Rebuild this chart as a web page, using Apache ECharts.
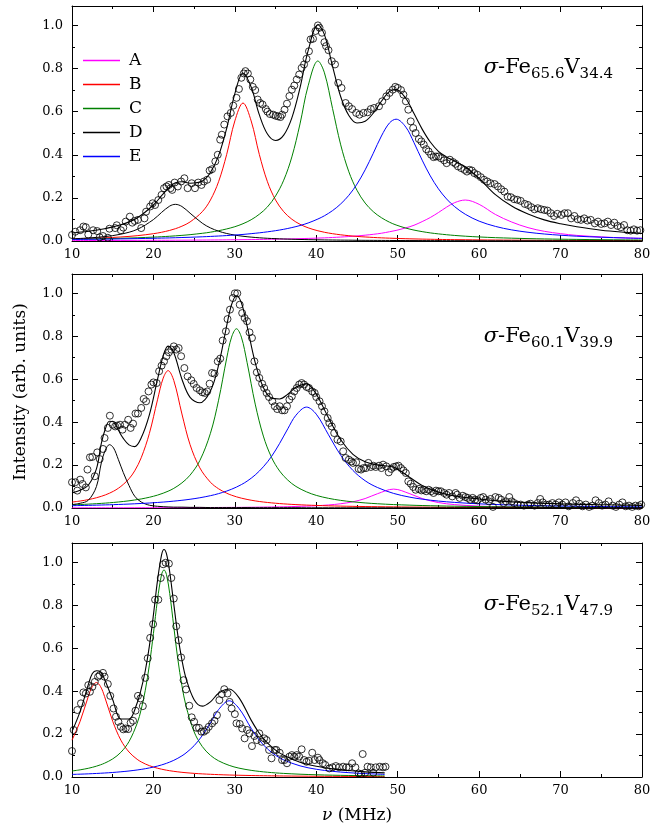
<!DOCTYPE html>
<html>
<head>
<meta charset="utf-8">
<script src="https://cdn.jsdelivr.net/npm/echarts/dist/echarts.min.js"></script>
<style>
  html, body { margin: 0; padding: 0; background: #fff; }
  #chart { width: 661px; height: 831px; }
</style>
</head>
<body>
<div id="chart"></div>
<script>
// ---- panel 1 : sigma-Fe65.6V34.4 ----
var nu1 = [10,12,14,16,18,20,21,22,22.7,23.5,24.5,26,27,28,29,30,31,32,33,34,35,36,37,38,39,40.2,41,42,43,44,45,46,47,48,49,49.8,51,52,53,54,55,56,57,58.3,60,62,64,66,68,70,72,75,78,80];
var A1 = [0.002,0.0022,0.0024,0.0026,0.0029,0.0032,0.0034,0.0035,0.0037,0.0038,0.0041,0.0044,0.0047,0.005,0.0054,0.0058,0.0062,0.0066,0.0071,0.0077,0.0084,0.0091,0.0099,0.0109,0.012,0.0135,0.0146,0.0164,0.0183,0.0207,0.0235,0.027,0.031,0.036,0.043,0.049,0.061,0.073,0.09,0.109,0.132,0.157,0.178,0.19,0.17,0.123,0.088,0.062,0.045,0.034,0.026,0.019,0.014,0.012];
var B1 = [0.0097,0.0118,0.0146,0.0187,0.0246,0.0339,0.0405,0.0492,0.0571,0.0687,0.0883,0.136,0.19,0.275,0.402,0.557,0.64,0.557,0.402,0.275,0.19,0.136,0.101,0.0776,0.0611,0.0474,0.0405,0.0339,0.0287,0.0246,0.0213,0.0187,0.0165,0.0146,0.0131,0.012,0.0106,0.0097,0.0088,0.0081,0.0074,0.0068,0.0063,0.0058,0.0051,0.0045,0.004,0.0035,0.0032,0.0028,0.0026,0.0022,0.002,0.0018];
var C1 = [0.0082,0.0093,0.0108,0.0126,0.015,0.018,0.0199,0.0221,0.0239,0.0261,0.0294,0.0357,0.0409,0.0477,0.056,0.0663,0.0802,0.0986,0.124,0.158,0.209,0.282,0.39,0.543,0.72,0.835,0.78,0.614,0.446,0.321,0.235,0.176,0.136,0.108,0.087,0.0743,0.0598,0.0506,0.0435,0.0376,0.033,0.0291,0.0258,0.0223,0.0187,0.0155,0.0131,0.0111,0.0096,0.0084,0.0074,0.0061,0.0052,0.0047];
var D1 = [0.0101,0.0139,0.0203,0.0316,0.0538,0.0993,0.1326,0.162,0.17,0.16,0.129,0.0825,0.0607,0.0455,0.0348,0.0274,0.022,0.018,0.0149,0.0126,0.0108,0.0093,0.0081,0.0071,0.0063,0.0055,0.005,0.0045,0.0041,0.0038,0.0034,0.0031,0.0029,0.0027,0.0025,0.0023,0.0021,0.002,0.0019,0.0018,0.0017,0.0016,0.0015,0.0014,0.0012,0.0011,0.001,0.0009,0.0008,0.0008,0.0007,0.0006,0.0006,0.0005];
var E1 = [0.0071,0.0079,0.0088,0.0098,0.0111,0.0126,0.0135,0.0144,0.0152,0.0161,0.0173,0.0195,0.0212,0.0231,0.0252,0.0277,0.0305,0.034,0.0379,0.0425,0.0479,0.0543,0.0623,0.0717,0.0836,0.102,0.117,0.141,0.172,0.212,0.264,0.33,0.407,0.487,0.548,0.565,0.528,0.456,0.375,0.302,0.242,0.195,0.159,0.124,0.092,0.0677,0.0515,0.0405,0.0325,0.0268,0.0223,0.0174,0.014,0.0123];
var fit1 = [0.037,0.045,0.057,0.075,0.107,0.167,0.21,0.251,0.27,0.275,0.268,0.278,0.318,0.396,0.523,0.684,0.779,0.714,0.586,0.496,0.466,0.491,0.571,0.71,0.883,1.003,0.957,0.81,0.669,0.582,0.547,0.555,0.593,0.648,0.694,0.703,0.661,0.591,0.519,0.459,0.416,0.39,0.37,0.343,0.29,0.215,0.162,0.125,0.098,0.08,0.066,0.05,0.04,0.035];
var obs1 = [[10,0.028],[10.4,0.043],[11,0.05],[11.4,0.067],[11.7,0.064],[12,0.03],[12.6,0.05],[13.1,0.046],[13.4,0.017],[13.8,0.023],[14.4,0.015],[14.6,0.057],[15.3,0.06],[15.5,0.073],[16,0.05],[16.3,0.062],[16.6,0.09],[17.1,0.113],[17.4,0.085],[17.7,0.093],[18.1,0.098],[18.5,0.06],[18.9,0.105],[19.1,0.136],[19.6,0.16],[19.9,0.175],[20.2,0.167],[20.6,0.19],[21,0.214],[21.3,0.245],[21.6,0.253],[21.9,0.26],[22.1,0.245],[22.3,0.237],[22.6,0.271],[23,0.253],[23.4,0.276],[23.8,0.291],[24.2,0.245],[24.7,0.268],[25.1,0.245],[25.5,0.271],[25.9,0.26],[26.2,0.276],[26.6,0.284],[26.9,0.327],[27.2,0.333],[27.6,0.369],[27.9,0.4],[28.2,0.47],[28.4,0.493],[28.7,0.54],[29.1,0.578],[29.5,0.594],[29.8,0.628],[30.2,0.664],[30.5,0.705],[30.8,0.757],[31.1,0.777],[31.3,0.788],[31.6,0.777],[31.9,0.749],[32.2,0.715],[32.5,0.7],[32.8,0.656],[33.1,0.64],[33.4,0.633],[33.8,0.612],[34,0.6],[34.3,0.589],[34.7,0.586],[35,0.581],[35.3,0.578],[35.6,0.575],[35.8,0.586],[36.1,0.609],[36.4,0.637],[36.7,0.672],[37,0.702],[37.3,0.721],[37.6,0.749],[37.9,0.772],[38.2,0.803],[38.5,0.819],[38.8,0.845],[39.1,0.88],[39.3,0.935],[39.6,0.938],[39.9,0.974],[40.2,1.0],[40.4,0.989],[40.7,0.966],[41,0.922],[41.2,0.904],[41.5,0.885],[41.9,0.834],[42.3,0.819],[42.7,0.733],[43.1,0.71],[43.6,0.64],[44,0.625],[44.4,0.612],[44.9,0.594],[45.3,0.586],[45.8,0.594],[46.3,0.597],[46.7,0.612],[47.1,0.617],[47.7,0.625],[48.1,0.648],[48.6,0.671],[49,0.687],[49.4,0.702],[49.7,0.715],[50,0.71],[50.4,0.7],[50.7,0.679],[51,0.648],[51.3,0.609],[51.6,0.555],[51.9,0.524],[52.2,0.501],[52.6,0.473],[52.9,0.462],[53.2,0.447],[53.5,0.426],[53.8,0.415],[54.1,0.4],[54.4,0.389],[54.7,0.392],[55,0.392],[55.3,0.384],[55.7,0.374],[56,0.361],[56.4,0.377],[56.8,0.366],[57.1,0.358],[57.4,0.346],[57.8,0.338],[58.2,0.33],[58.5,0.322],[58.8,0.33],[59.1,0.327],[59.4,0.315],[59.8,0.307],[60.2,0.296],[60.6,0.284],[61,0.276],[61.4,0.268],[61.9,0.264],[62.3,0.253],[62.7,0.24],[63.1,0.229],[63.5,0.206],[63.9,0.203],[64.3,0.194],[64.7,0.191],[65.1,0.186],[65.6,0.172],[66,0.167],[66.4,0.157],[66.8,0.147],[67.2,0.152],[67.6,0.147],[68,0.144],[68.4,0.141],[68.8,0.129],[69.2,0.116],[69.6,0.126],[70.1,0.121],[70.5,0.129],[70.9,0.129],[71.3,0.105],[71.7,0.116],[72.1,0.101],[72.5,0.098],[72.9,0.105],[73.3,0.095],[73.7,0.098],[74.2,0.082],[74.6,0.09],[75,0.079],[75.4,0.082],[75.8,0.09],[76.2,0.074],[76.6,0.085],[77,0.07],[77.4,0.064],[77.8,0.074],[78.2,0.05],[78.6,0.048],[79,0.054],[79.4,0.048],[79.8,0.05]];

// ---- panel 2 : sigma-Fe60.1V39.9 ----
var nu2 = [10,11,12,13,13.6,14.1,14.6,15.1,15.7,16.3,17,17.7,18.5,19.5,20.5,21.2,21.8,22.5,23.5,24.5,25.7,27,28,29,29.6,30.2,30.8,31.5,32.5,33.5,34.5,35.5,36.5,37.5,38.8,40,41.5,43,44.5,46,47.5,49.5,51.5,53,55,57,60,63,66,70,75,80];
var A2 = [0.0007,0.0007,0.0008,0.0008,0.0009,0.0009,0.0009,0.0009,0.001,0.001,0.001,0.0011,0.0012,0.0012,0.0013,0.0014,0.0015,0.0016,0.0017,0.0019,0.0021,0.0023,0.0025,0.0027,0.0028,0.0028,0.003,0.0033,0.0037,0.0042,0.0047,0.0052,0.006,0.0072,0.0085,0.0105,0.0141,0.0198,0.029,0.044,0.0663,0.088,0.0663,0.044,0.0254,0.0157,0.0088,0.0055,0.0038,0.0025,0.0016,0.0011];
var B2 = [0.0275,0.0325,0.039,0.0478,0.0544,0.061,0.0689,0.0782,0.0921,0.11,0.136,0.173,0.234,0.347,0.504,0.605,0.64,0.594,0.438,0.295,0.187,0.12,0.0895,0.0689,0.0596,0.052,0.0458,0.0399,0.0331,0.0279,0.0239,0.0206,0.018,0.0158,0.0136,0.0119,0.0101,0.0088,0.0077,0.0068,0.006,0.0052,0.0045,0.0041,0.0036,0.0032,0.0027,0.0023,0.002,0.0017,0.0014,0.0012];
var C2 = [0.0146,0.0162,0.018,0.0201,0.0215,0.0228,0.0243,0.0259,0.028,0.0304,0.0335,0.0373,0.0422,0.05,0.06,0.069,0.0782,0.0914,0.117,0.153,0.221,0.348,0.502,0.698,0.796,0.835,0.796,0.678,0.484,0.335,0.236,0.172,0.13,0.1005,0.0752,0.0588,0.0451,0.0355,0.0287,0.0237,0.0198,0.016,0.0132,0.0115,0.0098,0.0084,0.0068,0.0056,0.0047,0.0038,0.003,0.0024];
var D2 = [0.016,0.022,0.036,0.1,0.21,0.27,0.295,0.28,0.225,0.165,0.105,0.055,0.028,0.013,0.008,0.006,0.005,0.004,0.004,0.003,0.003,0.002,0.002,0.002,0.002,0.002,0.002,0.002,0.0015,0.0015,0.0015,0.0015,0.0015,0.0015,0.001,0.001,0.001,0.001,0.001,0.001,0.001,0.001,0.001,0.001,0.001,0.001,0.001,0.001,0.001,0.001,0.001,0.001];
var E2 = [0.0107,0.0115,0.0123,0.0133,0.0139,0.0145,0.015,0.0157,0.0164,0.0173,0.0184,0.0196,0.0211,0.0232,0.0257,0.0276,0.0295,0.032,0.0359,0.0407,0.0477,0.0574,0.0669,0.0789,0.0875,0.0975,0.109,0.125,0.154,0.192,0.24,0.301,0.369,0.432,0.47,0.437,0.341,0.246,0.175,0.127,0.0957,0.0679,0.0504,0.0412,0.0323,0.026,0.0194,0.015,0.012,0.0092,0.0068,0.0053];
var fit2 = [0.07,0.083,0.106,0.182,0.301,0.369,0.404,0.401,0.362,0.324,0.294,0.286,0.327,0.434,0.599,0.709,0.754,0.723,0.6,0.515,0.49,0.545,0.665,0.85,0.948,0.989,0.956,0.848,0.677,0.561,0.512,0.508,0.53,0.562,0.578,0.53,0.42,0.318,0.25,0.215,0.2,0.19,0.142,0.105,0.074,0.056,0.042,0.031,0.025,0.019,0.015,0.012];
var obs2 = [[10,0.12],[10.4,0.12],[10.65,0.081],[11,0.132],[11.3,0.112],[11.7,0.096],[11.9,0.179],[12.2,0.236],[12.5,0.238],[12.8,0.148],[13.1,0.259],[13.4,0.228],[13.8,0.275],[14,0.326],[14.4,0.373],[14.65,0.43],[15,0.388],[15.3,0.38],[15.55,0.384],[15.9,0.388],[16.2,0.365],[16.5,0.388],[16.9,0.411],[17.2,0.373],[17.5,0.393],[17.8,0.44],[18.1,0.44],[18.5,0.466],[18.8,0.508],[19.1,0.497],[19.4,0.543],[19.75,0.575],[20,0.585],[20.4,0.582],[20.7,0.637],[21,0.663],[21.3,0.683],[21.6,0.707],[21.9,0.725],[22.2,0.738],[22.5,0.753],[22.8,0.738],[23.1,0.745],[23.4,0.707],[23.8,0.652],[24.2,0.613],[24.65,0.595],[24.95,0.578],[25.3,0.559],[25.7,0.548],[26,0.539],[26.3,0.536],[26.6,0.543],[26.9,0.579],[27.2,0.629],[27.5,0.626],[27.9,0.683],[28.2,0.696],[28.5,0.78],[28.9,0.823],[29.1,0.88],[29.4,0.924],[29.75,0.978],[30,1.0],[30.3,1.0],[30.6,0.947],[30.9,0.908],[31.2,0.885],[31.5,0.87],[31.8,0.818],[32.1,0.792],[32.4,0.683],[32.7,0.632],[33,0.606],[33.35,0.579],[33.6,0.559],[33.9,0.536],[34.2,0.517],[34.6,0.497],[34.9,0.474],[35.2,0.461],[35.5,0.474],[35.8,0.455],[36.1,0.455],[36.4,0.474],[36.7,0.505],[37,0.52],[37.3,0.543],[37.6,0.559],[37.9,0.575],[38.2,0.582],[38.5,0.575],[38.8,0.564],[39.1,0.559],[39.5,0.543],[39.8,0.536],[40,0.517],[40.4,0.497],[40.7,0.474],[41,0.45],[41.4,0.419],[41.6,0.396],[41.9,0.38],[42.2,0.349],[42.6,0.318],[43,0.31],[43.3,0.264],[43.6,0.233],[44,0.225],[44.3,0.217],[44.5,0.21],[44.9,0.213],[45.2,0.182],[45.5,0.179],[45.8,0.186],[46.1,0.186],[46.4,0.21],[46.7,0.191],[47,0.197],[47.3,0.191],[47.7,0.197],[48,0.186],[48.2,0.202],[48.6,0.194],[48.9,0.166],[49.2,0.182],[49.5,0.191],[49.8,0.194],[50.1,0.197],[50.4,0.186],[50.7,0.175],[51,0.163],[51.3,0.124],[51.6,0.113],[51.9,0.098],[52.2,0.085],[52.6,0.089],[52.9,0.082],[53.2,0.085],[53.5,0.078],[53.8,0.085],[54.1,0.078],[54.4,0.07],[54.7,0.081],[55,0.078],[55.3,0.078],[55.7,0.07],[56,0.062],[56.3,0.07],[56.7,0.054],[57.1,0.07],[57.3,0.062],[57.6,0.047],[58,0.057],[58.3,0.051],[58.6,0.047],[58.9,0.039],[59.2,0.047],[59.5,0.039],[59.8,0.036],[60.2,0.047],[60.5,0.051],[60.8,0.039],[61.2,0.031],[61.4,0.042],[61.7,0.005],[62,0.051],[62.4,0.047],[62.7,0.039],[63,0.023],[63.3,0.031],[63.7,0.051],[64,0.031],[64.3,0.023],[64.7,0.016],[65.1,0.016],[65.5,0.011],[66,0.016],[66.3,0.02],[66.8,0.011],[67.2,0.023],[67.5,0.042],[67.8,0.026],[68.2,0.016],[68.6,0.016],[69,0.023],[69.4,0.016],[69.8,0.026],[70.2,0.016],[70.6,0.026],[71,0.008],[71.5,0.023],[71.9,0.036],[72.3,0.02],[72.7,0.008],[73.1,0.016],[73.5,0.005],[73.9,0.011],[74.3,0.036],[74.7,0.023],[75.1,0.011],[75.5,0.016],[75.9,0.031],[76.4,0.011],[76.8,0.005],[77.2,0.016],[77.6,0.026],[78,0.008],[78.4,0.011],[78.8,0.005],[79.2,0.011],[79.6,0.008],[79.9,0.016]];

// ---- panel 3 : sigma-Fe52.1V47.9 ----
var nu3 = [10,11,12,12.5,13,13.5,14,15,16,17,18,18.5,19,19.5,20,20.5,21,21.3,21.6,22,22.5,23,23.5,24,25,26,27,28,29.3,30.5,32,33,34,35,36,38,40,42,44,46,48.4];
var B3 = [0.1717,0.2597,0.375,0.4217,0.44,0.4217,0.375,0.2597,0.1717,0.1164,0.0824,0.0704,0.0607,0.0528,0.0463,0.0409,0.0364,0.034,0.0318,0.0292,0.0264,0.024,0.0218,0.02,0.0169,0.0145,0.0126,0.011,0.0093,0.0081,0.0069,0.0062,0.0057,0.0052,0.0047,0.004,0.0034,0.003,0.0026,0.0023,0.002];
var C3 = [0.0279,0.0334,0.0406,0.0451,0.0505,0.0568,0.0643,0.0843,0.115,0.165,0.25,0.315,0.404,0.521,0.668,0.826,0.943,0.965,0.943,0.855,0.7,0.548,0.425,0.331,0.21,0.142,0.101,0.0754,0.0542,0.0414,0.031,0.0261,0.0222,0.0191,0.0167,0.013,0.0104,0.0085,0.0071,0.006,0.005];
var E3 = [0.012,0.0132,0.0147,0.0156,0.0165,0.0175,0.0186,0.0211,0.0243,0.028,0.0327,0.0355,0.0386,0.0422,0.0463,0.0509,0.0562,0.0598,0.0637,0.0695,0.0777,0.0874,0.0986,0.112,0.146,0.193,0.252,0.314,0.355,0.32,0.227,0.172,0.131,0.101,0.0796,0.0519,0.0361,0.0264,0.0201,0.0158,0.0122];
var fit3 = [0.212,0.306,0.43,0.482,0.495,0.49,0.455,0.36,0.27,0.27,0.345,0.41,0.495,0.61,0.755,0.915,1.035,1.06,1.04,0.955,0.805,0.66,0.545,0.46,0.36,0.33,0.35,0.39,0.41,0.37,0.265,0.204,0.159,0.125,0.101,0.069,0.05,0.038,0.03,0.024,0.019];
var obs3 = [[10,0.121],[10.2,0.219],[10.65,0.312],[11.1,0.343],[11.4,0.394],[11.7,0.389],[12,0.428],[12.2,0.397],[12.5,0.42],[12.8,0.443],[13.2,0.467],[13.4,0.474],[13.8,0.485],[14,0.467],[14.4,0.433],[14.7,0.378],[15.1,0.319],[15.4,0.281],[15.7,0.257],[16,0.234],[16.3,0.222],[16.6,0.226],[16.9,0.223],[17.2,0.253],[17.5,0.262],[17.8,0.309],[18.1,0.378],[18.4,0.366],[18.7,0.33],[19,0.462],[19.3,0.553],[19.6,0.648],[19.96,0.712],[20.2,0.826],[20.6,0.826],[20.9,0.927],[21.2,0.991],[21.5,0.998],[21.9,0.994],[22.2,0.927],[22.5,0.831],[22.8,0.702],[23.1,0.637],[23.4,0.557],[23.7,0.451],[24,0.408],[24.4,0.332],[24.7,0.278],[25,0.257],[25.3,0.229],[25.6,0.229],[25.9,0.211],[26.2,0.211],[26.5,0.219],[26.8,0.234],[27.2,0.25],[27.5,0.262],[27.8,0.288],[28.1,0.358],[28.4,0.386],[28.7,0.409],[29.1,0.389],[29.35,0.35],[29.6,0.319],[30,0.293],[30.2,0.25],[30.6,0.247],[30.9,0.226],[31.2,0.18],[31.5,0.219],[31.8,0.203],[32.1,0.144],[32.4,0.191],[32.7,0.172],[33,0.203],[33.3,0.164],[33.6,0.18],[33.9,0.172],[34.2,0.126],[34.5,0.087],[34.9,0.126],[35.1,0.126],[35.5,0.113],[35.8,0.079],[36.1,0.079],[36.4,0.064],[36.7,0.095],[37,0.102],[37.3,0.095],[37.6,0.102],[37.9,0.095],[38.2,0.129],[38.5,0.079],[38.8,0.071],[39.1,0.076],[39.5,0.113],[39.8,0.079],[40.2,0.09],[40.4,0.079],[40.8,0.064],[41.1,0.056],[41.6,0.04],[42,0.045],[42.4,0.051],[42.8,0.045],[43.3,0.048],[43.7,0.045],[44,0.045],[44.4,0.064],[44.8,0.045],[45.2,0.017],[45.5,0.014],[45.7,0.107],[46,0.02],[46.3,0.048],[46.7,0.045],[47,0.02],[47.3,0.045],[47.8,0.048],[48.2,0.045],[48.5,0.048]];

var compNames = ['A', 'B', 'C', 'D', 'E'];
var panelLabels = [['65.6', '34.4'], ['60.1', '39.9'], ['52.1', '47.9']];
var xTicks = [10, 20, 30, 40, 50, 60, 70, 80];

var FONT = 'DejaVu Serif';
var colors = { A: '#ff00ff', B: '#ff0000', C: '#008000', D: '#000000', E: '#0000ff' };
var grids = [
  { left: 72, top: 6, width: 570, height: 235 },
  { left: 72, top: 274, width: 570, height: 234 },
  { left: 72, top: 543, width: 570, height: 234 }
];

var chart = echarts.init(document.getElementById('chart'));

var xAxes = [], yAxes = [], series = [], graphics = [];
var black = { color: '#000', width: 1 };

grids.forEach(function (g, i) {
  ['bottom', 'top'].forEach(function (pos) {
    xAxes.push({
      gridIndex: i, type: 'value', position: pos,
      min: xTicks[0], max: xTicks[xTicks.length - 1], interval: 10,
      axisLine: { show: true, onZero: false, lineStyle: black },
      axisTick: { show: true, inside: true, length: 6, lineStyle: black },
      minorTick: { show: true, splitNumber: 2, length: 3, lineStyle: black },
      axisLabel: { show: pos === 'bottom', color: '#000', fontFamily: FONT, fontSize: 13, margin: 7 },
      splitLine: { show: false }
    });
  });
  ['left', 'right'].forEach(function (pos) {
    // major ticks (every 0.2) with labels on the left
    yAxes.push({
      gridIndex: i, type: 'value', position: pos, min: 0, max: 1.09, interval: 0.2,
      axisLine: { show: true, onZero: false, lineStyle: black },
      axisTick: { show: true, inside: true, length: 6, lineStyle: black },
      axisLabel: {
        show: pos === 'left', color: '#000', fontFamily: FONT, fontSize: 13, margin: 9,
        showMaxLabel: false,
        formatter: function (v) { return v.toFixed(1); }
      },
      splitLine: { show: false }
    });
    // minor ticks (every 0.1)
    yAxes.push({
      gridIndex: i, type: 'value', position: pos, min: 0, max: 1.09, interval: 0.1,
      axisLine: { show: false },
      axisTick: { show: true, inside: true, length: 3, lineStyle: black },
      axisLabel: { show: false },
      splitLine: { show: false }
    });
  });
});

function pairs(xs, ys) {
  return xs.map(function (x, k) { return [x, ys[k]]; });
}

function addLine(name, xs, ys, color, gi, width) {
  series.push({
    name: name, type: 'line', xAxisIndex: gi * 2, yAxisIndex: gi * 4,
    data: pairs(xs, ys), symbol: 'none', smooth: 0.35,
    lineStyle: { color: color, width: width }, itemStyle: { color: color },
    silent: true, animation: false, z: 2
  });
}

function addPoints(pts, gi) {
  series.push({
    name: 'data', type: 'scatter', xAxisIndex: gi * 2, yAxisIndex: gi * 4,
    data: pts, symbol: 'circle', symbolSize: 7,
    itemStyle: { color: 'rgba(255,255,255,0)', borderColor: '#000', borderWidth: 1 },
    silent: true, animation: false, z: 4
  });
}

// panel 1
addLine('A', nu1, A1, colors.A, 0, 1);
addLine('B', nu1, B1, colors.B, 0, 1);
addLine('C', nu1, C1, colors.C, 0, 1);
addLine('D', nu1, D1, colors.D, 0, 1);
addLine('E', nu1, E1, colors.E, 0, 1);
addLine('fit', nu1, fit1, '#000', 0, 1.1);
addPoints(obs1, 0);
// panel 2
addLine('A', nu2, A2, colors.A, 1, 1);
addLine('B', nu2, B2, colors.B, 1, 1);
addLine('C', nu2, C2, colors.C, 1, 1);
addLine('D', nu2, D2, colors.D, 1, 1);
addLine('E', nu2, E2, colors.E, 1, 1);
addLine('fit', nu2, fit2, '#000', 1, 1.1);
addPoints(obs2, 1);
// panel 3
addLine('B', nu3, B3, colors.B, 2, 1);
addLine('C', nu3, C3, colors.C, 2, 1);
addLine('E', nu3, E3, colors.E, 2, 1);
addLine('fit', nu3, fit3, '#000', 2, 1.1);
addPoints(obs3, 2);

// alloy labels
var labelY = [68, 337, 605];
panelLabels.forEach(function (p, i) {
  graphics.push({
    type: 'text', x: 613, y: labelY[i], silent: true,
    style: {
      text: '{i|σ}-Fe{s|' + p[0] + '}V{s|' + p[1] + '}',
      align: 'right', verticalAlign: 'middle',
      fill: '#000', fontFamily: FONT, fontSize: 21, lineHeight: 28,
      rich: {
        i: { fontFamily: FONT, fontStyle: 'italic', fontSize: 21, lineHeight: 28 },
        s: { fontFamily: FONT, fontSize: 15, lineHeight: 15, verticalAlign: 'bottom' }
      }
    }
  });
});

// axis titles
graphics.push({
  type: 'text', x: 21, y: 392, rotation: Math.PI / 2, silent: true,
  style: { text: 'Intensity (arb. units)', align: 'center', verticalAlign: 'middle',
           fill: '#000', fontFamily: FONT, fontSize: 17 }
});
graphics.push({
  type: 'text', x: 357, y: 816, silent: true,
  style: { text: '{i|ν} (MHz)', align: 'center', verticalAlign: 'middle',
           fill: '#000', fontFamily: FONT, fontSize: 17,
           rich: { i: { fontFamily: FONT, fontStyle: 'italic', fontSize: 17 } } }
});

chart.setOption({
  backgroundColor: '#fff',
  animation: false,
  grid: grids,
  xAxis: xAxes,
  yAxis: yAxes,
  legend: {
    data: compNames.map(function (n) { return { name: n, icon: 'rect' }; }),
    orient: 'vertical', left: 78, top: 47,
    itemWidth: 37, itemHeight: 1.5, itemGap: 7,
    textStyle: { color: '#000', fontFamily: FONT, fontSize: 17, padding: [0, 0, 0, 4] },
    selectedMode: false
  },
  series: series,
  graphic: graphics
});
</script>
</body>
</html>
